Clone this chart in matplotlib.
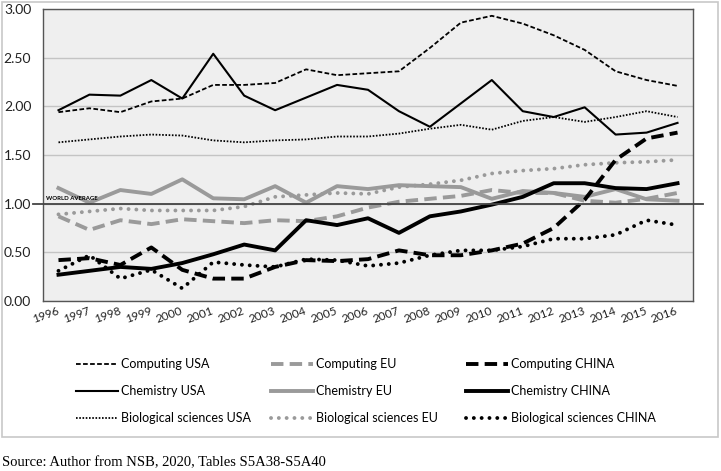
import matplotlib
matplotlib.use('Agg')
from matplotlib import pyplot as plt
from matplotlib.patches import Rectangle
from matplotlib.lines import Line2D

plt.rcParams['font.family'] = ['Lato', 'DejaVu Sans']

YEARS: list = [str(y) for y in range(1996, 2017)]

# Computing
computing_usa: list = [1.94, 1.98, 1.94, 2.05, 2.08, 2.22, 2.22, 2.24, 2.38, 2.32, 2.34,
                       2.36, 2.60, 2.86, 2.93, 2.85, 2.73, 2.58, 2.36, 2.27, 2.21]
computing_eu: list = [0.87, 0.73, 0.83, 0.79, 0.84, 0.82, 0.80, 0.83, 0.82, 0.87, 0.96,
                      1.02, 1.05, 1.08, 1.14, 1.11, 1.11, 1.03, 1.01, 1.05, 1.11]
computing_china: list = [0.42, 0.44, 0.37, 0.55, 0.32, 0.23, 0.23, 0.35, 0.42, 0.41, 0.43,
                         0.52, 0.47, 0.47, 0.52, 0.59, 0.75, 1.04, 1.45, 1.67, 1.73]

# Chemistry
chemistry_usa: list = [1.96, 2.12, 2.11, 2.27, 2.08, 2.54, 2.11, 1.96, 2.09, 2.22, 2.17,
                       1.95, 1.79, 2.03, 2.27, 1.95, 1.89, 1.99, 1.71, 1.73, 1.83]
chemistry_eu: list = [1.16, 1.01, 1.14, 1.10, 1.25, 1.055, 1.045, 1.18, 1.01, 1.18, 1.15,
                      1.19, 1.18, 1.17, 1.05, 1.13, 1.11, 1.07, 1.15, 1.045, 1.03]
chemistry_china: list = [0.27, 0.31, 0.35, 0.33, 0.39, 0.48, 0.58, 0.52, 0.83, 0.78, 0.85,
                         0.70, 0.87, 0.92, 0.99, 1.07, 1.21, 1.21, 1.16, 1.15, 1.21]

# Biological sciences
bio_usa: list = [1.63, 1.66, 1.69, 1.71, 1.70, 1.65, 1.63, 1.65, 1.66, 1.69, 1.69,
                 1.72, 1.77, 1.81, 1.76, 1.85, 1.89, 1.84, 1.89, 1.95, 1.89]
bio_eu: list = [0.89, 0.92, 0.95, 0.93, 0.93, 0.93, 0.97, 1.07, 1.09, 1.11, 1.10,
                1.17, 1.20, 1.24, 1.31, 1.34, 1.36, 1.40, 1.42, 1.43, 1.45]
bio_china: list = [0.31, 0.47, 0.23, 0.32, 0.13, 0.40, 0.37, 0.35, 0.43, 0.42, 0.36,
                   0.39, 0.47, 0.52, 0.52, 0.56, 0.64, 0.64, 0.68, 0.83, 0.78]

Y_TICKS: list = [0.0, 0.5, 1.0, 1.5, 2.0, 2.5, 3.0]

GRAY: str = '#9a9a9a'

fig = plt.figure(figsize=(7.21, 4.71), dpi=100)
ax = fig.add_axes([43 / 721, 1 - 301 / 471, 650 / 721, 292 / 471])
ax.set_facecolor('#efefef')

x = list(range(len(YEARS)))

series = [
    (computing_usa, 'Computing USA', dict(color='black', lw=1.3, dashes=(2.6, 1.3))),
    (chemistry_usa, 'Chemistry USA', dict(color='black', lw=1.5)),
    (bio_usa, 'Biological sciences USA', dict(color='black', lw=1.3, dashes=(0.9, 0.9))),
    (computing_eu, 'Computing EU', dict(color=GRAY, lw=2.8, dashes=(3.2, 1.6))),
    (chemistry_eu, 'Chemistry EU', dict(color=GRAY, lw=2.8)),
    (bio_eu, 'Biological sciences EU', dict(color=GRAY, lw=2.8, dashes=(0.01, 2.0), dash_capstyle='round')),
    (computing_china, 'Computing CHINA', dict(color='black', lw=2.8, dashes=(3.2, 1.6))),
    (chemistry_china, 'Chemistry CHINA', dict(color='black', lw=2.8)),
    (bio_china, 'Biological sciences CHINA', dict(color='black', lw=2.8, dashes=(0.01, 2.0), dash_capstyle='round')),
]

handles = []
for values, label, style in series:
    line, = ax.plot(x, values, label=label, zorder=3, **style)
    handles.append(line)

ax.set_xlim(-0.5, len(YEARS) - 0.5)
ax.set_ylim(0, 3)
ax.set_yticks(Y_TICKS)
ax.set_yticklabels(['{:.2f}'.format(v) for v in Y_TICKS], fontsize=10)
ax.set_xticks(x)
ax.set_xticklabels(YEARS, rotation=20, fontsize=8.5, ha='right', va='center',
                   rotation_mode='anchor')
ax.tick_params(axis='both', length=0, colors='#222222')
ax.tick_params(axis='y', pad=8.5)
ax.tick_params(axis='x', pad=7)
ax.grid(axis='y', color='#c4c4c4', lw=1.0, zorder=1)
ax.set_axisbelow(True)
for spine in ax.spines.values():
    spine.set_color('#555555')
    spine.set_linewidth(1.0)

# world average line, running a little past the frame
ax.add_line(Line2D([-0.015, 1.015], [1.0, 1.0], transform=ax.get_yaxis_transform(),
                   color='#444444', lw=1.3, clip_on=False, zorder=4))
ax.text(-0.4, 1.03, 'WORLD AVERAGE', fontsize=4.3, fontweight='bold', va='bottom', ha='left',
        zorder=5)

# legend, three columns placed by hand
col_x = [70 / 721, 265 / 721, 460 / 721]
for i, cx in enumerate(col_x):
    fig.legend(handles=handles[i * 3:(i + 1) * 3], loc='upper left',
               bbox_to_anchor=(cx, 1 - 352 / 471), frameon=False, fontsize=9,
               handlelength=3.3, handletextpad=0.25, labelspacing=1.2, borderpad=0)

fig.patches.append(Rectangle((2 / 721, 1 - 437 / 471), 716 / 721, 435 / 471,
                             transform=fig.transFigure, fill=False,
                             edgecolor='#c8c8c8', lw=1.2))

fig.text(2 / 721, 1 - 463 / 471, 'Source: Author from NSB, 2020, Tables S5A38-S5A40',
         fontsize=10.5, family='Liberation Serif', va='center', ha='left')

fig.savefig('out.png', dpi=100)
